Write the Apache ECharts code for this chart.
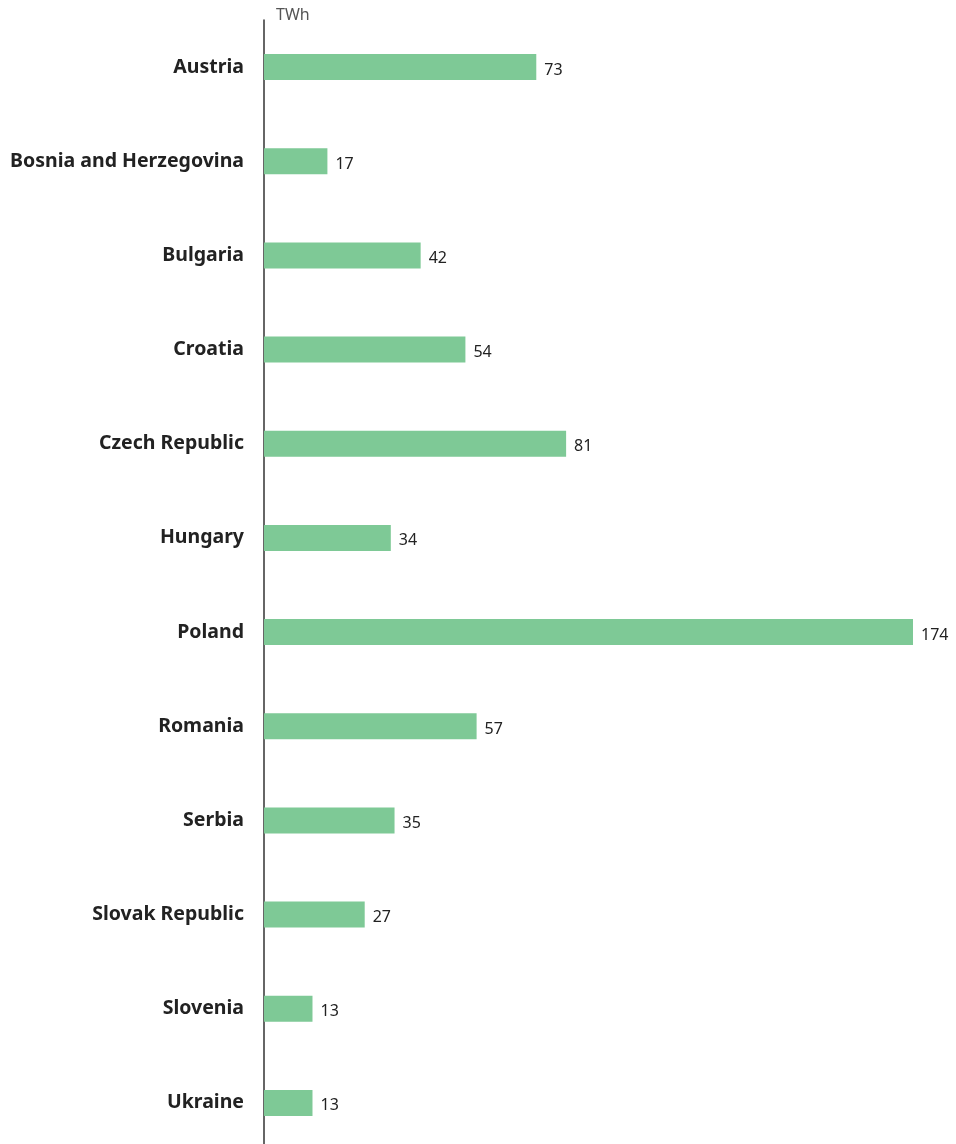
<!DOCTYPE html>
<html>
<head>
<meta charset="utf-8">
<style>
    html, body { margin: 0; padding: 0; background: #fff; }
    #chart { width: 956px; height: 1144px; }
</style>
<script src="https://cdn.jsdelivr.net/npm/echarts@6/dist/echarts.min.js"></script>
</head>
<body>
<div id="chart"></div>
<script>
// 国家与发电量（TWh）
const countries = ["Austria", "Bosnia and Herzegovina", "Bulgaria", "Croatia", "Czech Republic", "Hungary",
    "Poland", "Romania", "Serbia", "Slovak Republic", "Slovenia", "Ukraine"];
const values = [73, 17, 42, 54, 81, 34, 174, 57, 35, 27, 13, 13];
const unit = "TWh";

(function () {
    const my_echart = echarts.init(document.getElementById("chart"));
    let option = {
        animation: false,
        grid: {
            left: 264,
            top: 20,
            width: 649, // 174 对应到 913px
            height: 1130,
            outerBoundsMode: 'none' //允许超出画布底部
        },
        graphic: [
            {
                type: 'text', //单位
                left: 276,
                top: 7,
                style: { text: unit, fontSize: 16, fill: '#555', fontFamily: 'Noto Sans' }
            }
        ],
        xAxis: {
            type: 'value',
            min: 0,
            max: 174,
            show: false
        },
        yAxis: {
            type: 'category',
            data: countries,
            inverse: true, //从上往下排列
            axisLine: { show: true, lineStyle: { color: '#333', width: 1.5 } },
            axisTick: { show: false },
            axisLabel: {
                margin: 20,
                fontSize: 19.5,
                fontWeight: 'bold',
                color: '#222',
                fontFamily: 'Noto Sans',
                padding: [3, 0, 0, 0]
            }
        },
        series: [
            {
                type: 'bar',
                data: values,
                barWidth: 26,
                itemStyle: { color: '#7ec996' },
                label: {
                    show: true,
                    position: 'right',
                    distance: 8,
                    offset: [0, 3],
                    fontSize: 16,
                    color: '#222',
                    fontFamily: 'Noto Sans'
                }
            }
        ]
    }; //配置项
    my_echart.setOption(option);
})();
</script>
</body>
</html>
